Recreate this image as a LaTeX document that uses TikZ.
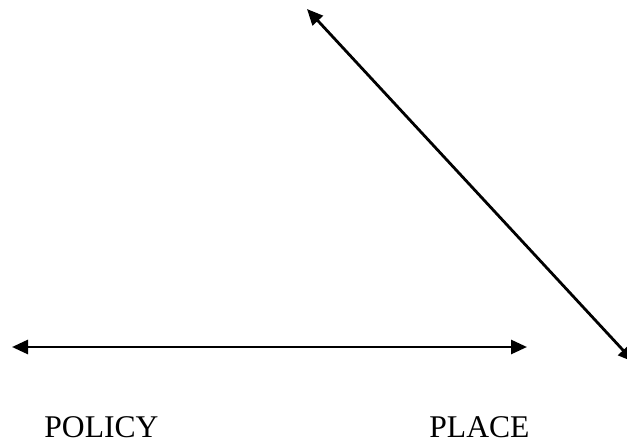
\documentclass[tikz,border=0pt]{standalone}
\usepackage{fontspec}
\setmainfont{Liberation Serif}
\usepackage{tikz}
\usetikzlibrary{positioning,arrows.meta}

\begin{document}
\begin{tikzpicture}[x=1pt, y=-1pt, line width=2.8pt,
    >={Triangle[length=16pt, width=14pt]},
    label/.style={inner sep=0pt, text depth=0pt, anchor=base west, font=\fontsize{31.6}{38}\selectfont}]
    \useasboundingbox (0,0) rectangle (627,442);
    \clip (0,0) rectangle (627,442);
    \coordinate (T) at (307,9);
    \coordinate (R) at (634,362);
    \coordinate (L) at (12,347);
    \coordinate (M) at (527,347);
    \node[label] (policy) at (43,437) {POLICY};
    \node[label] (place) at (428,437) {PLACE};

    \draw[<->] (L) -- (M);
    \draw[<->] (T) -- (R);
\end{tikzpicture}
\end{document}
